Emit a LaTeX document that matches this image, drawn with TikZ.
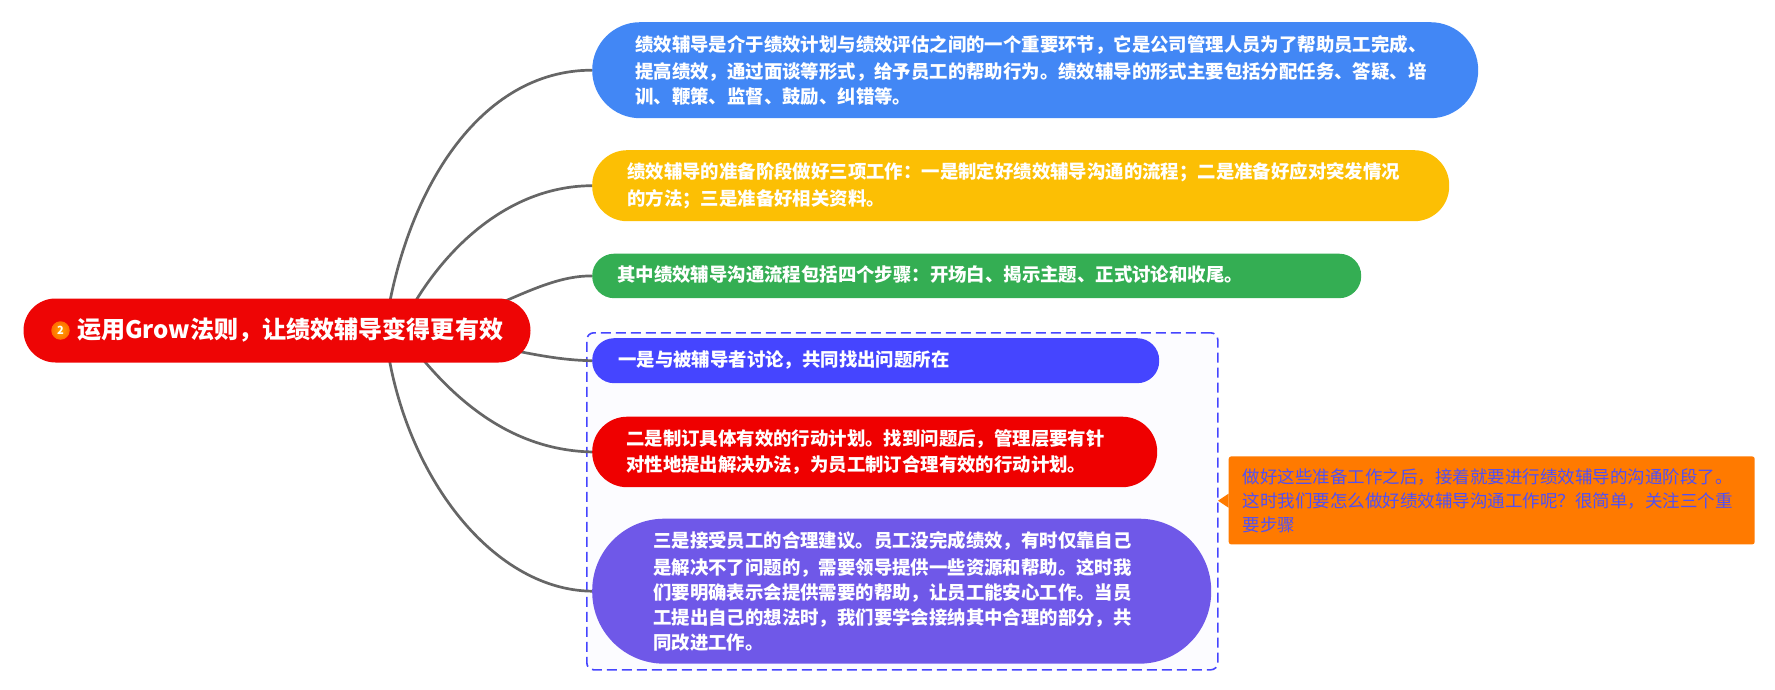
\documentclass[tikz,border=0pt]{standalone}
\usepackage{fontspec}
\setmainfont{Noto Sans CJK SC}[Script=CJK,Language=Chinese Simplified]
\usetikzlibrary{backgrounds}
\definecolor{cblue}{HTML}{4287F5}
\definecolor{cyellow}{HTML}{FCBF04}
\definecolor{cgreen}{HTML}{34AE53}
\definecolor{cindigo}{HTML}{4545FF}
\definecolor{cred}{HTML}{EF0000}
\definecolor{cpurple}{HTML}{6F58E8}
\definecolor{croot}{HTML}{EE0505}
\definecolor{cnote}{HTML}{FF7A00}
\definecolor{cnotetext}{HTML}{5050F5}
\definecolor{cline}{HTML}{666666}
\definecolor{cgroup}{HTML}{FCFCFF}
\tikzset{
  pill/.style={anchor=north west,inner ysep=0pt,align=left,text=white,
    font=\fontsize{18.4}{24.9}\selectfont\bfseries,
    execute at begin node={\vspace*{2pt}}},
  link/.style={draw=cline,line width=2.7pt},
}
\begin{document}
\begin{tikzpicture}[x=1pt,y=-1pt]
\useasboundingbox (0,0) rectangle (1775,690);
\node[pill,fill=croot,rounded corners=32pt,minimum height=64pt,inner xsep=0pt,text width=507pt,font=\fontsize{24.05}{28}\selectfont\bfseries] (root) at (23.3,298.3) {\hspace*{53.7pt}运用Grow法则，让绩效辅导变得更有效};
\node[circle,shading=radial,inner color=orange!70!yellow,outer color=orange!85!red,minimum size=18.5pt,inner sep=0pt,text=white,font=\fontsize{11}{11}\selectfont\bfseries] (badge) at (60.5,330.5) {2};
\node[pill,fill=cblue,rounded corners=47.9pt,minimum height=96pt,inner xsep=43pt,text width=800pt] (n1) at (592,22) {绩效辅导是介于绩效计划与绩效评估之间的一个重要环节，它是公司管理人员为了帮助员工完成、\\提高绩效，通过面谈等形式，给予员工的帮助行为。绩效辅导的形式主要包括分配任务、答疑、培\\训、鞭策、监督、鼓励、纠错等。};
\node[pill,fill=cyellow,rounded corners=35pt,minimum height=71pt,inner xsep=35pt,text width=787pt] (n2) at (592,150) {绩效辅导的准备阶段做好三项工作：一是制定好绩效辅导沟通的流程；二是准备好应对突发情况\\的方法；三是准备好相关资料。};
\node[pill,fill=cgreen,rounded corners=22pt,minimum height=44.5pt,inner xsep=25pt,text width=719pt] (n3) at (592,253.5) {其中绩效辅导沟通流程包括四个步骤：开场白、揭示主题、正式讨论和收尾。};
\node[pill,fill=cindigo,rounded corners=22pt,minimum height=45pt,inner xsep=26pt,text width=515pt] (n4) at (592,338) {一是与被辅导者讨论，共同找出问题所在};
\node[pill,fill=cred,rounded corners=35pt,minimum height=70.5pt,inner xsep=34pt,text width=497pt] (n5) at (592,416.5) {二是制订具体有效的行动计划。找到问题后，管理层要有针\\对性地提出解决办法，为员工制订合理有效的行动计划。};
\node[pill,fill=cpurple,rounded corners=72pt,minimum height=145pt,inner xsep=61pt,text width=497pt] (n6) at (592,518.5) {三是接受员工的合理建议。员工没完成绩效，有时仅靠自己\\是解决不了问题的，需要领导提供一些资源和帮助。这时我\\们要明确表示会提供需要的帮助，让员工能安心工作。当员\\工提出自己的想法时，我们要学会接纳其中合理的部分，共\\同改进工作。};
\node[anchor=north west,fill=cnote,rounded corners=2.5pt,minimum height=88pt,inner xsep=14pt,inner ysep=0pt,text width=498pt,align=left,text=cnotetext,font=\fontsize{17.5}{24}\selectfont] (note) at (1228.5,456.2) {做好这些准备工作之后，接着就要进行绩效辅导的沟通阶段了。\\这时我们要怎么做好绩效辅导沟通工作呢？很简单，关注三个重\\要步骤};
\coordinate (tip) at (1218,500.7);
\coordinate (hub) at (385,330);
\coordinate (hubb) at (400,330);
\fill[cnote] (tip) -- ([yshift=-7pt]note.west |- tip) -- ([yshift=7pt]note.west |- tip) -- cycle;
\begin{pgfonlayer}{background}
\node[anchor=north west,draw=cindigo,fill=cgroup,dash pattern=on 10pt off 5pt,line width=1.6pt,rounded corners=7pt,minimum width=631pt,minimum height=337pt,inner sep=0pt] (group) at (586,332) {};
\draw[link] (hub) .. controls (405,190) and (480,70) .. (n1.west);
\draw[link] (hubb) .. controls (432,262) and (500,186) .. (n2.west);
\draw[link] (hub) .. controls (470,335) and (530,275) .. (n3.west);
\draw[link] (hub) .. controls (470,335) and (530,360) .. (n4.west);
\draw[link] (hubb) .. controls (440,385) and (500,450) .. (n5.west);
\draw[link] (hub) .. controls (400,470) and (490,590) .. (n6.west);
\end{pgfonlayer}
\end{tikzpicture}
\end{document}
